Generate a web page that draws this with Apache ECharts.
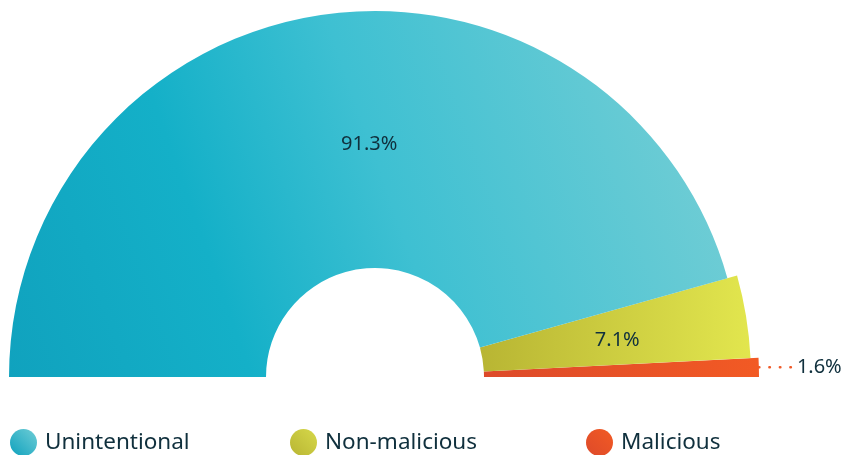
<!DOCTYPE html>
<html>
<head>
<meta charset="utf-8">
<script src="https://cdn.jsdelivr.net/npm/echarts@6/dist/echarts.min.js"></script>
<style>
  html, body { margin: 0; padding: 0; background: #ffffff; }
  #chart { width: 842px; height: 455px; }
</style>
</head>
<body>
<div id="chart"></div>
<script>
// Share of incidents by type (percent)
const categories = ['Unintentional', 'Non-malicious', 'Malicious'];
const shares = [91.3, 7.1, 1.6];
const labelTexts = ['91.3%', '7.1%', '1.6%'];

const G = echarts.graphic.LinearGradient;
const fills = [
  new G(0, 1, 1, 0.3, [
    { offset: 0, color: '#10a2be' },
    { offset: 0.3, color: '#14b0c8' },
    { offset: 0.55, color: '#3ec0d2' },
    { offset: 1, color: '#74ced5' }
  ]),
  new G(0, 0, 1, 0, [
    { offset: 0, color: '#b8b533' },
    { offset: 1, color: '#e2e64e' }
  ]),
  new G(0, 0, 1, 0, [
    { offset: 0, color: '#dd4a2a' },
    { offset: 1, color: '#f25a24' }
  ])
];
const legendFills = [
  new G(0, 1, 1, 0, [{ offset: 0, color: '#0ea1bd' }, { offset: 1, color: '#6fcdd6' }]),
  new G(0, 1, 1, 0, [{ offset: 0, color: '#b8b533' }, { offset: 1, color: '#d6d84a' }]),
  new G(0, 1, 1, 0, [{ offset: 0, color: '#dd4a2a' }, { offset: 1, color: '#f25a24' }])
];
const legendLeft = [10, 290, 586];

// Each slice gets its own outer radius; every series holds the full data so
// all slices share the same angular layout, and only one item is drawn per series.
const outerRadii = [366, 376, 384];
const textColor = '#10303d';
const font = '"Noto Sans", "Open Sans", sans-serif';

const series = categories.map((name, si) => ({
  type: 'pie',
  center: [375, 377],
  radius: [109, outerRadii[si]],
  startAngle: 180,
  endAngle: 0,
  clockwise: true,
  avoidLabelOverlap: false,
  animation: false,
  silent: true,
  z: 3 - si,
  data: categories.map((n, i) => {
    const own = i === si;
    const item = {
      name: n,
      value: shares[i],
      itemStyle: { color: own ? fills[i] : 'rgba(0,0,0,0)' },
      label: { show: false },
      labelLine: { show: false },
      emphasis: { disabled: true }
    };
    if (own) {
      if (i < 2) {
        item.label = {
          show: true,
          position: 'inside',
          formatter: labelTexts[i],
          color: textColor,
          fontFamily: font,
          fontSize: 20,
          offset: i === 0 ? [27, 6] : [0, 3]
        };
      } else {
        item.label = {
          show: true,
          position: 'outside',
          formatter: labelTexts[i],
          color: textColor,
          fontFamily: font,
          fontSize: 20,
          distanceToLabelLine: 6
        };
        item.labelLine = {
          show: true,
          length: 4,
          length2: 28,
          lineStyle: { color: '#f05a28', width: 2.5, cap: 'round', type: [0.5, 10] }
        };
      }
    }
    return item;
  })
}));

const chart = echarts.init(document.getElementById('chart'), null, { renderer: 'canvas' });
chart.setOption({
  backgroundColor: '#ffffff',
  legend: categories.map((n, i) => ({
    left: legendLeft[i] - 5,
    top: 424,
    icon: 'circle',
    itemWidth: 27,
    itemHeight: 27,
    selectedMode: false,
    textStyle: { color: textColor, fontFamily: font, fontSize: 22.5, padding: [0, 0, 0, 3] },
    data: [{ name: n, itemStyle: { color: legendFills[i] } }]
  })),
  series
});
</script>
</body>
</html>
